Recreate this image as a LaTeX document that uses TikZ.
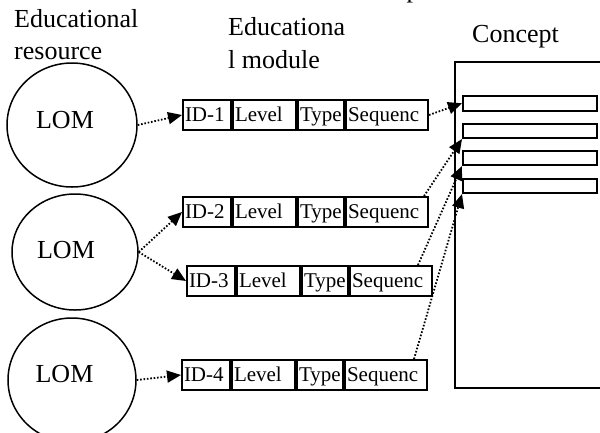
\documentclass[tikz,border=0pt]{standalone}
\usepackage{fontspec}
\setmainfont{Liberation Serif}
\usetikzlibrary{arrows.meta,shapes.geometric}
\newcommand\modrow[4]{%
  \node[cell, minimum width=48pt] (#1id) at (#2,#3) {\makebox[44pt][l]{#4}};
  \node[cell, minimum width=63pt] (#1lv) at (#1id.east) {\makebox[59pt][l]{Level}};
  \node[cell, minimum width=46pt] (#1ty) at (#1lv.east) {\makebox[42pt][l]{Type}};
  \node[cell, minimum width=82pt] (#1sq) at (#1ty.east) {\makebox[78pt][l]{Sequenc}};
}
\begin{document}
\begin{tikzpicture}[x=1pt,y=-1pt,
  lbl/.style={inner sep=0pt, font=\fontsize{26}{30}\selectfont},
  cell/.style={draw, line width=2pt, minimum height=30pt, inner xsep=2pt, inner ysep=0pt,
    text height=16pt, text depth=3pt, anchor=west, font=\fontsize{21}{24}\selectfont},
  lom/.style={ellipse, draw, line width=1.5pt, inner sep=0pt},
  dotarrow/.style={line width=1.8pt, dash pattern=on 1.6pt off 1.8pt,
    -{Triangle[length=14pt,width=12pt]}},
  slot/.style={draw, line width=2pt, minimum width=134pt, minimum height=14.5pt,
    inner sep=0pt, anchor=north west}]
\useasboundingbox (0,0) rectangle (600,432);
\fill[white] (0,0) rectangle (600,432);

% headings
\node[lbl, anchor=base west] (t1) at (14,27) {Educational};
\node[lbl, anchor=base west] (t2) at (14,59) {resource};
\node[lbl, anchor=base west] (t3) at (228,35) {Educationa};
\node[lbl, anchor=base west] (t4) at (228,68) {l module};
\node[lbl, anchor=base west] (t5) at (472,42) {Concept};
\node[lbl, anchor=base] (tp) at (413,-3) {p};

% LOM ellipses
\node[lom, minimum width=130pt, minimum height=124pt] (c1) at (72,125) {};
\node[lom, minimum width=126pt, minimum height=116pt] (c2) at (75,252) {};
\node[lom, minimum width=128pt, minimum height=124pt] (c3) at (72,380) {};
\node[lbl, anchor=base] (l1) at (65,128) {LOM};
\node[lbl, anchor=base] (l2) at (66,258) {LOM};
\node[lbl, anchor=base] (l3) at (64.5,382) {LOM};

% module rows
\modrow{b1}{182}{115}{ID-1}
\modrow{b2}{182}{212}{ID-2}
\modrow{b3}{186}{281}{ID-3}
\modrow{b4}{181}{375}{ID-4}

% concept
\node[draw, line width=2pt, anchor=north west, minimum width=170pt, minimum height=326pt,
  inner sep=0pt] (concept) at (454,61) {};
\node[slot] (r1) at (462,95) {};
\node[slot] (r2) at (462,122.5) {};
\node[slot] (r3) at (462,149.5) {};
\node[slot] (r4) at (462,177.5) {};

% connectors
\draw[dotarrow] (c1.east) -- (b1id.west);
\draw[dotarrow] (c2.east) -- (b2id.west);
\draw[dotarrow] (c2.east) -- (b3id.west);
\draw[dotarrow] (c3.east) -- (b4id.west);
\draw[dotarrow] (b1sq.east) -- (r1.west);
\draw[dotarrow] ([xshift=-5pt]b2sq.north east) -- (r2.south west);
\draw[dotarrow] ([xshift=-15pt]b3sq.north east) -- (r3.south west);
\draw[dotarrow] ([xshift=-14pt]b4sq.north east) -- (r4.south west);
\end{tikzpicture}
\end{document}
